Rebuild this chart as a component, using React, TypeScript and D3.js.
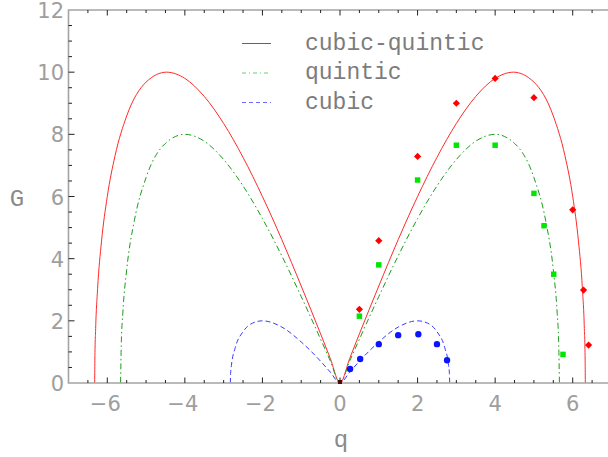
import React from 'react';
import * as d3 from 'd3';

// ─── data ──────────────────────────────────────────────────────────────────

// cubic-quintic gain curve
const cqQ = [-6.325, -6.32, -6.3, -6.25, -6.15, -6, -5.8, -5.5, -5, -4.47, -4, -3.5, -3, -2.5, -2, -1.5, -1, -0.5, -0.25, 0,
  0.25, 0.5, 1, 1.5, 2, 2.5, 3, 3.5, 4, 4.47, 5, 5.5, 5.8, 6, 6.15, 6.25, 6.3, 6.32, 6.325];
const cqG = [0, 0.77, 1.75, 3.03, 4.54, 6.0, 7.31, 8.59, 9.68, 10.0, 9.8, 9.22, 8.35, 7.26, 6.0, 4.61, 3.12, 1.58, 0.79, 0,
  0.79, 1.58, 3.12, 4.61, 6.0, 7.26, 8.35, 9.22, 9.8, 10.0, 9.68, 8.59, 7.31, 6.0, 4.54, 3.03, 1.75, 0.77, 0];

// quintic gain curve
const quQ = [-5.657, -5.64, -5.6, -5.5, -5.3, -5, -4.5, -4, -3.5, -3, -2.5, -2, -1.5, -1, -0.5, -0.25, 0,
  0.25, 0.5, 1, 1.5, 2, 2.5, 3, 3.5, 4, 4.5, 5, 5.3, 5.5, 5.6, 5.64, 5.657];
const quG = [0, 1.23, 2.24, 3.64, 5.24, 6.61, 7.71, 8.0, 7.78, 7.19, 6.34, 5.29, 4.09, 2.78, 1.41, 0.71, 0,
  0.71, 1.41, 2.78, 4.09, 5.29, 6.34, 7.19, 7.78, 8.0, 7.71, 6.61, 5.24, 3.64, 2.24, 1.23, 0];

// cubic gain curve
const cuQ = [-2.828, -2.82, -2.8, -2.7, -2.5, -2.25, -2, -1.5, -1, -0.5, -0.25, 0,
  0.25, 0.5, 1, 1.5, 2, 2.25, 2.5, 2.7, 2.8, 2.82, 2.828];
const cuG = [0, 0.31, 0.56, 1.14, 1.65, 1.93, 2.0, 1.8, 1.32, 0.7, 0.35, 0,
  0.35, 0.7, 1.32, 1.8, 2.0, 1.93, 1.65, 1.14, 0.56, 0.31, 0];

// numerical points
const redQ = [0.5, 1, 2, 3, 4, 5, 6, 6.28, 6.41];
const redG = [2.37, 4.58, 7.29, 9.0, 9.8, 9.18, 5.57, 2.99, 1.22];
const greenQ = [0.5, 1, 2, 3, 4, 5, 5.26, 5.51, 5.75];
const greenG = [2.15, 3.8, 6.53, 7.65, 7.65, 6.1, 5.06, 3.5, 0.92];
const blueQ = [0.26, 0.52, 1, 1.5, 2.02, 2.5, 2.76];
const blueG = [0.45, 0.77, 1.25, 1.54, 1.57, 1.25, 0.73];

const xTicks = [-6, -4, -2, 0, 2, 4, 6];
const yTicks = [0, 2, 4, 6, 8, 10, 12];
const legendLabels = ['cubic-quintic', 'quintic', 'cubic'];

// ─── chart ─────────────────────────────────────────────────────────────────

const W = 608;
const H = 457;
const FRAME = '#a4a4a4';
const LABEL = '#9e9e9e';

const x = d3.scaleLinear().domain([-7, 7]).range([68.5, 611.5]);
const y = d3.scaleLinear().domain([0, 12]).range([383, 10]);

const line = d3.line<[number, number]>()
  .x(d => x(d[0]))
  .y(d => y(d[1]))
  .curve(d3.curveMonotoneX);

const zip = (a: number[], b: number[]) => a.map((v, i) => [v, b[i]] as [number, number]);

const curves = [
  { q: cqQ, g: cqG, stroke: '#ff2a2a', dash: undefined, legStroke: '#ff2020', legDash: undefined },
  { q: quQ, g: quG, stroke: '#1c9c1c', dash: '6,3,1.5,3', legStroke: '#66d466', legDash: '4,3,1,3' },
  { q: cuQ, g: cuG, stroke: '#3a3aff', dash: '5,3', legStroke: '#6a6aff', legDash: '4,3' },
];

const diamond = d3.symbol(d3.symbolSquare, 26)()!;
const square = d3.symbol(d3.symbolSquare, 30)()!;
const circle = d3.symbol(d3.symbolCircle, 32)()!;

export default function App() {
  const minorX = d3.range(-6.5, 7, 0.5);
  const minorY = d3.range(0.5, 12, 0.5);
  return (
    <svg width={W} height={H} style={{ position: 'absolute', left: 0, top: 0, background: '#fff' }}>
      {/* curves */}
      {curves.map((c, i) => (
        <path
          key={i}
          d={line(zip(c.q, c.g)) ?? undefined}
          fill="none"
          stroke={c.stroke}
          strokeWidth={1}
          strokeDasharray={c.dash}
        />
      ))}

      {/* frame */}
      <path
        d={`M${x(7) + 2},${y(12)}H${x(-7)}V${y(0)}H${x(7) + 2}`}
        fill="none"
        stroke={FRAME}
        strokeWidth={1.6}
      />
      {minorX.map(t => {
        const major = xTicks.includes(t);
        const len = major ? 5.5 : 3;
        return (
          <g key={t} stroke="#222" strokeWidth={1}>
            <line x1={x(t)} x2={x(t)} y1={y(0)} y2={y(0) - len} />
            <line x1={x(t)} x2={x(t)} y1={y(12)} y2={y(12) + len} />
          </g>
        );
      })}
      {minorY.map(t => {
        const major = yTicks.includes(t);
        const len = major ? 6 : 3.5;
        return <line key={t} x1={x(-7)} x2={x(-7) + len} y1={y(t)} y2={y(t)} stroke="#222" strokeWidth={1} />;
      })}

      {/* tick labels */}
      <g fontFamily="DejaVu Sans" fontSize={21} fill={LABEL}>
        {yTicks.map(t => (
          <text key={t} x={64} y={y(t) + 8} textAnchor="end">{t}</text>
        ))}
        {xTicks.map(t => (
          <text key={t} x={x(t) - (t < 0 ? 2 : 0)} y={411} textAnchor="middle">
            {t < 0 ? `\u2212${Math.abs(t)}` : t}
          </text>
        ))}
      </g>
      <g fontFamily="Liberation Mono" fontSize={24} fill="#8a8a8a">
        <text x={17} y={206} textAnchor="middle">G</text>
        <text x={341} y={447} textAnchor="middle">q</text>
      </g>

      {/* points */}
      {zip(redQ, redG).map((d, i) => (
        <path key={`r${i}`} d={diamond} fill="#ff0000" transform={`translate(${x(d[0])},${y(d[1])}) rotate(45)`} />
      ))}
      {zip(greenQ, greenG).map((d, i) => (
        <path key={`g${i}`} d={square} fill="#00e600" transform={`translate(${x(d[0])},${y(d[1])})`} />
      ))}
      {zip(blueQ, blueG).map((d, i) => (
        <path key={`b${i}`} d={circle} fill="#0a14ff" transform={`translate(${x(d[0])},${y(d[1])})`} />
      ))}
      <path d={d3.symbol(d3.symbolSquare, 16)()!} fill="#4a0a0a" transform={`translate(${x(0)},${y(0) - 1})`} />

      {/* legend */}
      {legendLabels.map((l, i) => {
        const ly = 43.5 + i * 29.5;
        const c = curves[i];
        return (
          <g key={l}>
            <line x1={242} x2={271} y1={ly} y2={ly} stroke={c.legStroke} strokeWidth={1} strokeDasharray={c.legDash} />
            <text x={305} y={ly + 6} fontFamily="Liberation Mono" fontSize={23} fill="#7c7c7c">{l}</text>
          </g>
        );
      })}
    </svg>
  );
}
